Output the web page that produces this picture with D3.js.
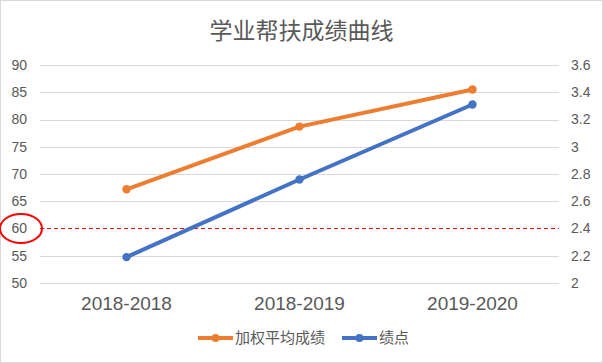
<!DOCTYPE html>
<html>
<head>
<meta charset="utf-8">
<script src="https://cdn.jsdelivr.net/npm/d3@7"></script>
<style>
    body { margin: 0; background: #fff; }
    svg { display: block; font-family: "Liberation Sans", Arial, "Noto Sans CJK SC", sans-serif; }
</style>
</head>
<body>
<svg id="chart" width="603" height="363"></svg>
<script>
const categories = ["2018-2018", "2018-2019", "2019-2020"];
const weightedAvg = [67.2, 78.7, 85.5];
const gpa = [2.19, 2.76, 3.31];
const leftTicks = [50, 55, 60, 65, 70, 75, 80, 85, 90];
const rightTicks = [2, 2.2, 2.4, 2.6, 2.8, 3, 3.2, 3.4, 3.6];
const passLine = 60;
const titleText = "学业帮扶成绩曲线";
const seriesNames = ["加权平均成绩", "绩点"];

const svg = d3.select("#chart");
const W = 603, H = 363;
const margin = { left: 40, right: 44, top: 65, bottom: 80 };
const textColor = "#595959";
const orange = "#ED7D31", blue = "#4472C4";

svg.append("rect")
    .attr("x", 0.5).attr("y", 0.5)
    .attr("width", W - 1).attr("height", H - 1)
    .attr("fill", "#fff").attr("stroke", "#d9d9d9");

const x = d3.scaleBand().domain(categories).range([margin.left, W - margin.right]);
const yL = d3.scaleLinear().domain([50, 90]).range([H - margin.bottom, margin.top]);
const yR = d3.scaleLinear().domain([2, 3.6]).range([H - margin.bottom, margin.top]);

// gridlines
svg.append("g")
    .selectAll("line")
    .data(leftTicks.filter(t => t !== passLine))
    .enter().append("line")
    .attr("x1", margin.left).attr("x2", W - margin.right)
    .attr("y1", d => Math.round(yL(d)) + 0.5).attr("y2", d => Math.round(yL(d)) + 0.5)
    .attr("stroke", "#d9d9d9").attr("stroke-width", 1);

// left axis
const leftAxis = svg.append("g")
    .attr("transform", `translate(${margin.left},0)`)
    .call(d3.axisLeft(yL).tickValues(leftTicks).tickSize(0).tickPadding(13));
leftAxis.select(".domain").remove();
leftAxis.selectAll("text").attr("fill", textColor).style("font-size", "14px");

// right axis
const rightAxis = svg.append("g")
    .attr("transform", `translate(${W - margin.right},0)`)
    .call(d3.axisRight(yR).tickValues(rightTicks).tickSize(0).tickPadding(12).tickFormat(d3.format("~g")));
rightAxis.select(".domain").remove();
rightAxis.selectAll("text").attr("fill", textColor).style("font-size", "14px");

// bottom axis
const bottomAxis = svg.append("g")
    .attr("transform", `translate(0,${H - margin.bottom})`)
    .call(d3.axisBottom(x).tickSize(0).tickPadding(14));
bottomAxis.select(".domain").remove();
bottomAxis.selectAll("text").attr("fill", textColor).style("font-size", "19px");

// pass line
svg.append("line")
    .attr("x1", margin.left).attr("x2", W - margin.right)
    .attr("y1", yL(passLine)).attr("y2", yL(passLine))
    .attr("stroke", "#ff0000").attr("stroke-width", 1)
    .attr("stroke-dasharray", "4,3");

svg.append("ellipse")
    .attr("cx", 21).attr("cy", yL(passLine))
    .attr("rx", 21).attr("ry", 14.5)
    .attr("fill", "none").attr("stroke", "#ff0000").attr("stroke-width", 2);

// series
const series = [
    { name: seriesNames[0], values: weightedAvg, y: yL, color: orange },
    { name: seriesNames[1], values: gpa, y: yR, color: blue }
];
const cx = d => x(d) + x.bandwidth() / 2;

series.forEach(s => {
    const pts = categories.map((c, i) => [cx(c), s.y(s.values[i])]);
    svg.append("path")
        .attr("d", d3.line()(pts))
        .attr("fill", "none")
        .attr("stroke", s.color)
        .attr("stroke-width", 4)
        .attr("stroke-linejoin", "round")
        .attr("stroke-linecap", "round");
    svg.append("g").selectAll("circle")
        .data(pts)
        .enter().append("circle")
        .attr("cx", d => d[0]).attr("cy", d => d[1])
        .attr("r", 4.2).attr("fill", s.color);
});

// title
svg.append("text")
    .attr("x", W / 2).attr("y", 39)
    .attr("text-anchor", "middle")
    .attr("fill", textColor)
    .style("font-size", "23px")
    .style("font-family", "'Noto Sans CJK SC', sans-serif")
    .text(titleText);

// legend
const legend = svg.append("g").attr("transform", "translate(0,338)");
const legendItems = [
    { name: seriesNames[0], color: orange, x: 198 },
    { name: seriesNames[1], color: blue, x: 342 }
];
legendItems.forEach(it => {
    const g = legend.append("g").attr("transform", `translate(${it.x},0)`);
    g.append("line").attr("x1", 0).attr("x2", 35).attr("y1", 0).attr("y2", 0)
        .attr("stroke", it.color).attr("stroke-width", 4);
    g.append("circle").attr("cx", 17.5).attr("cy", 0).attr("r", 4).attr("fill", it.color);
    g.append("text").attr("x", 37).attr("y", 0).attr("dy", "0.35em")
        .attr("fill", textColor)
        .style("font-size", "15px")
        .style("font-family", "'Noto Sans CJK SC', sans-serif")
        .text(it.name);
});
</script>
</body>
</html>
